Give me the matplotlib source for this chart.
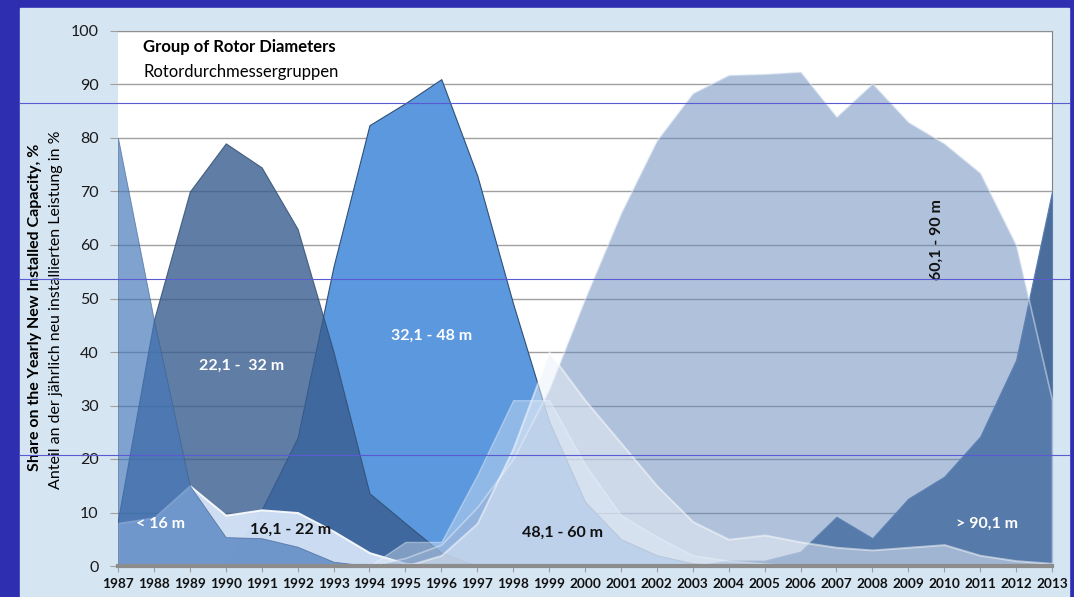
import matplotlib
matplotlib.use("Agg")
import matplotlib.pyplot as plt
from matplotlib.lines import Line2D
from matplotlib.patches import Rectangle

years = list(range(1987, 2014))

# share on the yearly new installed capacity per rotor diameter group, %
share_lt16 = [80, 46, 15, 5.4, 5.2, 3.6, 0.8, 0, 0, 0, 0, 0, 0, 0, 0, 0, 0, 0, 0, 0, 0, 0, 0, 0, 0, 0, 0]
share_16_22 = [8, 9, 15, 9.5, 10.5, 10, 6.5, 2.5, 0.5, 0, 0, 0, 0, 0, 0, 0, 0, 0, 0, 0, 0, 0, 0, 0, 0, 0, 0]
share_22_32 = [8.6, 46, 70, 79, 74.5, 63, 40, 13.6, 8, 2.5, 0, 0, 0, 0, 0, 0, 0, 0, 0, 0, 0, 0, 0, 0, 0, 0, 0]
share_32_48 = [0, 0, 0, 0, 10.5, 24, 56, 82.4, 86.5, 91, 73, 49, 27, 12, 5, 2, 0.5, 0, 0, 0, 0, 0, 0, 0, 0, 0, 0]
share_48_60 = [0, 0, 0, 0, 0, 0, 0, 0, 0, 2, 8, 22, 40, 31, 23, 15, 8.3, 5, 5.8, 4.5, 3.5, 3, 3.5, 4, 2, 1, 0.5]
share_48_60_shadow = [0, 0, 0, 0, 0, 0, 0, 0, 4.5, 4.5, 17, 31, 31, 19, 9.5, 5.5, 2, 1, 0.5, 0, 0, 0, 0, 0, 0, 0, 0]
share_60_90 = [0, 0, 0, 0, 0, 0, 0, 0, 1.5, 4, 11, 20, 33, 50, 66, 79.6, 88.4, 91.8, 92, 92.4, 84, 90.2, 83, 79, 73.5, 60, 31]
share_gt90 = [0, 0, 0, 0, 0, 0, 0, 0, 0, 0, 0, 0, 0, 0, 0, 0, 0, 1, 1, 2.7, 9.2, 5.2, 12.6, 16.7, 24.2, 38.5, 70]

W, H = 1074, 597
fig = plt.figure(figsize=(W / 100, H / 100), dpi=100, facecolor="#2e2eb0")
fig.patches.append(Rectangle((20 / W, 0), (1069 - 20) / W, (H - 8) / H,
                             transform=fig.transFigure, color="#d6e5f2", zorder=-10))

ax = fig.add_axes([118 / W, 31 / H, (1052 - 118) / W, (566 - 31) / H])
ax.set_facecolor("white")

# (values, face colour, alpha, edge colour, edge width)
layers = [
    (share_32_48, "#5b98dd", 1.0, "#2f5078", 0.8),
    (share_22_32, "#385e8f", 0.8, "#2f4a6e", 0.8),
    (share_16_22, "#dbe8fb", 0.9, "white", 1.4),
    (share_lt16, "#4476b9", 0.68, "#3a5f90", 0.6),
    (share_gt90, "#4a6d9c", 1.0, "#5a7db0", 0.8),
    (share_60_90, "#6387b9", 0.5, "#e8eef8", 1.2),
    (share_48_60_shadow, "#e1ebfa", 0.4, "#f4f8ff", 1.0),
    (share_48_60, "#eaf0f8", 0.5, "white", 1.4),
]
for i, (vals, fc, a, ec, lw) in enumerate(layers):
    ax.fill_between(years, 0, vals, facecolor=fc, alpha=a, edgecolor=ec,
                    linewidth=lw, zorder=2 + i)

ax.set_xlim(1987, 2013)
ax.set_ylim(0, 100)
ax.set_yticks(range(0, 101, 10))
ax.set_xticks(years)
ax.set_xticklabels([str(y) for y in years], fontfamily="Lato", fontweight="bold",
                   fontsize=9.8, color="#111111")
for lab in ax.get_yticklabels():
    lab.set_fontfamily("Lato")
ax.tick_params(axis="y", labelsize=11.5, length=6, color="#a0a0a0", pad=8,
               labelcolor="#1a1a1a")
ax.tick_params(axis="x", length=4, color="#a0a0a0", pad=5)
ax.grid(axis="y", color="#a0a0a0", linewidth=1, zorder=1)
ax.set_axisbelow(True)
ax.spines["left"].set_visible(False)
ax.spines["top"].set_color("#909090")
ax.spines["right"].set_color("#808080")
ax.spines["bottom"].set_color("#8c8c8c")
ax.spines["bottom"].set_linewidth(3)
ax.spines["bottom"].set_zorder(20)

ax.text(0.027, 0.970, "Group of Rotor Diameters", transform=ax.transAxes,
        fontfamily="Lato", fontweight="bold", fontsize=12, va="center", ha="left", zorder=30)
ax.text(0.027, 0.923, "Rotordurchmessergruppen", transform=ax.transAxes,
        fontfamily="Lato", fontsize=12, va="center", ha="left", zorder=30)

labels = [
    ("< 16 m", 1988.17, 7.9, "white", 0),
    ("16,1 - 22 m", 1991.8, 6.7, "#111111", 0),
    ("22,1 -  32 m", 1990.45, 37.4, "white", 0),
    ("32,1 - 48 m", 1995.74, 43.0, "white", 0),
    ("48,1 - 60 m", 1999.36, 6.2, "#111111", 0),
    ("60,1 - 90 m", 2009.8, 61.0, "#111111", 90),
    ("> 90,1 m", 2011.2, 7.9, "white", 0),
]
for txt, x, y, col, rot in labels:
    ax.text(x, y, txt, color=col, rotation=rot, fontfamily="Lato", fontweight="bold",
            fontsize=11.5, ha="center", va="center", zorder=30)

fig.text(35 / W, 1 - 307 / H, "Share on the Yearly New Installed Capacity, %",
         rotation=90, fontfamily="Lato", fontweight="bold", fontsize=11.5,
         ha="center", va="center")
fig.text(56 / W, 1 - 310 / H, "Anteil an der jährlich neu installierten Leistung in %",
         rotation=90, fontfamily="Lato", fontsize=11.5, ha="center", va="center")

# thin blue slide lines across the panel
for py in [103, 279, 455]:
    fig.lines.append(Line2D([20 / W, 1069 / W], [1 - py / H, 1 - py / H],
                            transform=fig.transFigure, color="#5a5ad2",
                            linewidth=0.8, zorder=5))

fig.savefig("out.png", dpi=100, facecolor=fig.get_facecolor())
